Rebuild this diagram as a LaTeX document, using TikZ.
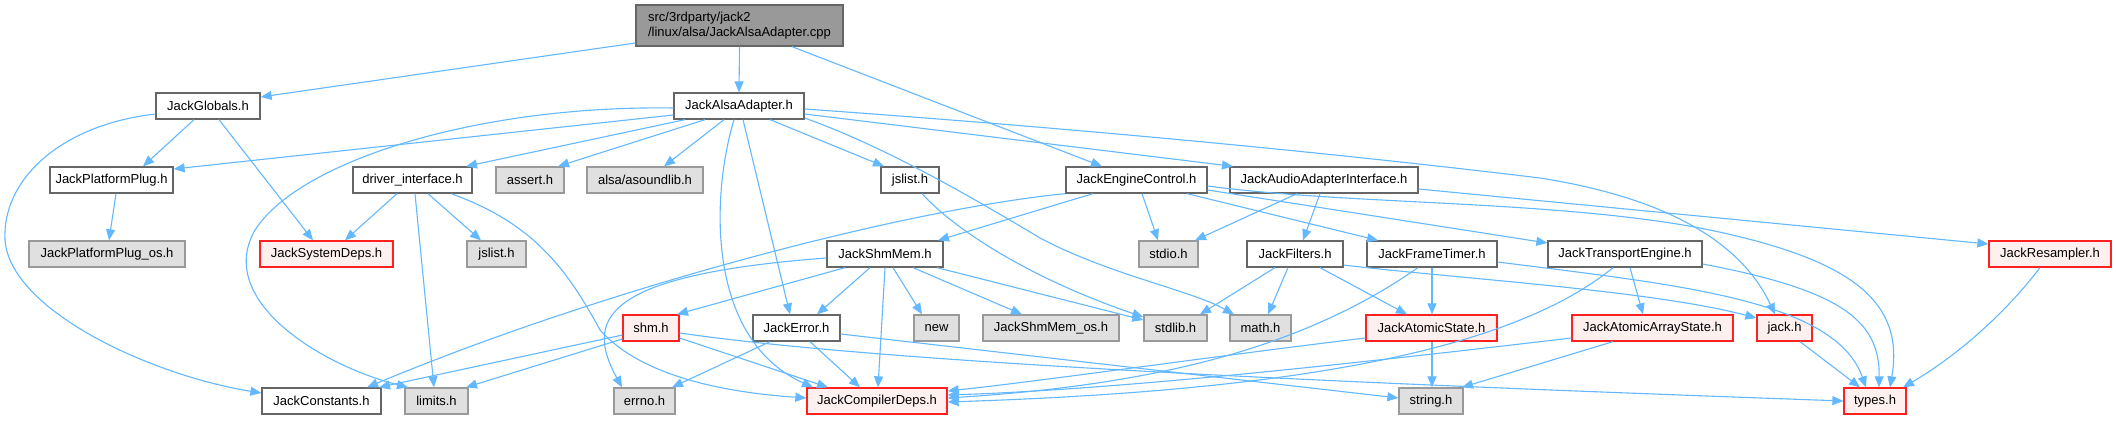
\documentclass[tikz,border=0pt]{standalone}
\usepackage{fontspec}
\setmainfont{Liberation Sans}
\usetikzlibrary{arrows.meta}
\definecolor{edgec}{HTML}{63B8FF}
\definecolor{wbord}{HTML}{666666}
\definecolor{gfill}{HTML}{E0E0E0}
\definecolor{gbord}{HTML}{999999}
\definecolor{rfill}{HTML}{FFF0F0}
\definecolor{rbord}{HTML}{FF2020}
\definecolor{rootfill}{HTML}{999999}
\begin{document}
\begin{tikzpicture}[x=1pt,y=-1pt,
  nb/.style={line width=1.3pt, inner sep=0pt, minimum height=26pt, anchor=center,
     font=\fontsize{13}{15}\selectfont, text=black},
  wn/.style={nb, draw=wbord, fill=white},
  gn/.style={nb, draw=gbord, fill=gfill},
  rn/.style={nb, draw=rbord, fill=rfill},
  rootn/.style={nb, draw=wbord, fill=rootfill, minimum height=41pt, align=left},
  dep/.style={draw=edgec, line width=1.1pt, -{Triangle[length=11pt,width=9pt]}}]
\useasboundingbox (0,0) rectangle (2116,420);
\fill[white] (0,0) rectangle (2116,420);

% nodes
\node[rootn, minimum width=207pt] (root) at (739.5,25.5) {src/3rdparty/jack2\\/linux/alsa/JackAlsaAdapter.cpp};
\node[wn, minimum width=104pt] (JG) at (208,106) {JackGlobals.h};
\node[wn, minimum width=130pt] (JA) at (739,106) {JackAlsaAdapter.h};
\node[wn, minimum width=123pt] (JPP) at (111.5,180) {JackPlatformPlug.h};
\node[wn, minimum width=119pt] (DI) at (412.5,180) {driver\_interface.h};
\node[gn, minimum width=68pt] (AS) at (530,180) {assert.h};
\node[gn, minimum width=116pt] (AL) at (645,180) {alsa/asoundlib.h};
\node[wn, minimum width=58pt] (JSL) at (910,180) {jslist.h};
\node[wn, minimum width=141pt] (JEC) at (1136.5,180) {JackEngineControl.h};
\node[wn, minimum width=188pt] (JAAI) at (1324,180) {JackAudioAdapterInterface.h};
\node[gn, minimum width=156pt] (JPPos) at (107,254) {JackPlatformPlug\_os.h};
\node[rn, minimum width=133pt] (JSD) at (326.5,254) {JackSystemDeps.h};
\node[gn, minimum width=59pt] (JSL2) at (496.5,254) {jslist.h};
\node[wn, minimum width=116pt] (JSM) at (885,254) {JackShmMem.h};
\node[gn, minimum width=59pt] (STDIO) at (1168.5,254) {stdio.h};
\node[wn, minimum width=96pt] (JF) at (1295,254) {JackFilters.h};
\node[wn, minimum width=130pt] (JFT) at (1432,254) {JackFrameTimer.h};
\node[wn, minimum width=154pt] (JTE) at (1625,254) {JackTransportEngine.h};
\node[rn, minimum width=122pt] (JR) at (2050,254) {JackResampler.h};
\node[rn, minimum width=56pt] (SHM) at (651,328) {shm.h};
\node[wn, minimum width=87pt] (JE) at (796.5,328) {JackError.h};
\node[gn, minimum width=45pt] (NEW) at (936.5,328) {new};
\node[gn, minimum width=136pt] (JSMos) at (1051,328) {JackShmMem\_os.h};
\node[gn, minimum width=63pt] (STDLIB) at (1175.5,328) {stdlib.h};
\node[gn, minimum width=61pt] (MATH) at (1260.5,328) {math.h};
\node[rn, minimum width=131pt] (JAS) at (1431.5,328) {JackAtomicState.h};
\node[rn, minimum width=161pt] (JAAS) at (1652.5,328) {JackAtomicArrayState.h};
\node[rn, minimum width=55pt] (JACK) at (1784.5,328) {jack.h};
\node[wn, minimum width=119pt] (JC) at (321.5,401) {JackConstants.h};
\node[gn, minimum width=63pt] (LIM) at (436.5,401) {limits.h};
\node[gn, minimum width=61pt] (ERRNO) at (644.5,401) {errno.h};
\node[rn, minimum width=140pt] (JCD) at (877,401) {JackCompilerDeps.h};
\node[gn, minimum width=64pt] (STR) at (1431,401) {string.h};
\node[rn, minimum width=62pt] (TYPES) at (1875,401) {types.h};

% edges from root
\draw[dep] (root.west |- 0,43) -- (JG.east |- 0,97);
\draw[dep] (root.south) -- (JA.north);
\draw[dep] (root.south -| 792,0) -- (JEC.north -| 1102,0);
% JackGlobals
\draw[dep] (JG.south -| 194,0) -- (JPP.north -| 143,0);
\draw[dep] (JG.south -| 219,0) -- (JSD.north -| 313,0);
\draw[dep] (JG.west |- 0,114) .. controls (60,125) and (2,180) .. (5,240) .. controls (10,310) and (150,375) .. (JC.west |- 0,393);
\draw[dep] (JPP.south -| 116,0) -- (JPPos.north -| 109,0);
% JackAlsaAdapter
\draw[dep] (JA.west |- 0,115) -- (JPP.east |- 0,169);
\draw[dep] (JA.west |- 0,108) .. controls (480,105) and (300,160) .. (255,230) .. controls (215,300) and (320,365) .. (LIM.north -| 408,0);
\draw[dep] (JA.south -| 685,0) -- (DI.north -| 466,0);
\draw[dep] (JA.south -| 705,0) -- (AS.north -| 558,0);
\draw[dep] (JA.south -| 724,0) -- (AL.north -| 664,0);
\draw[dep] (JA.south -| 734,0) .. controls (710,200) and (708,340) .. (JCD.north -| 813,0);
\draw[dep] (JA.south -| 743,0) -- (JE.north -| 790,0);
\draw[dep] (JA.south -| 770,0) -- (JSL.north -| 884,0);
\draw[dep] (JA.east |- 0,118) .. controls (880,145) and (960,190) .. (1040,238) .. controls (1110,275) and (1190,290) .. (MATH.north -| 1234,0);
\draw[dep] (JA.east |- 0,114) -- (JAAI.north -| 1233,0);
\draw[dep] (JA.east |- 0,109) .. controls (1100,130) and (1350,155) .. (1540,178) .. controls (1680,200) and (1745,250) .. (JACK.north -| 1775,0);
% driver_interface
\draw[dep] (DI.south -| 397,0) -- (JSD.north -| 345,0);
\draw[dep] (DI.south -| 415,0) -- (LIM.north -| 434,0);
\draw[dep] (DI.south -| 428,0) -- (JSL2.north -| 481,0);
\draw[dep] (DI.south -| 451,0) .. controls (530,222) and (565,265) .. (600,330) .. controls (640,375) and (720,392) .. (JCD.west |- 0,398);
% jslist
\draw[dep] (JSL.south -| 922,0) .. controls (960,235) and (1040,282) .. (STDLIB.west |- 0,317);
% JackEngineControl
\draw[dep] (JEC.south west) .. controls (900,210) and (600,290) .. (JC.north -| 367,0);
\draw[dep] (JEC.south -| 1093,0) -- (JSM.north -| 938,0);
\draw[dep] (JEC.south -| 1142,0) -- (STDIO.north -| 1158,0);
\draw[dep] (JEC.south -| 1187,0) -- (JFT.north -| 1378,0);
\draw[dep] (JEC.east |- 0,190) -- (JTE.west |- 0,243);
\draw[dep] (JEC.east |- 0,186) .. controls (1350,205) and (1550,200) .. (1700,228) .. controls (1850,258) and (1905,300) .. (TYPES.north -| 1890,0);
% JackAudioAdapterInterface
\draw[dep] (JAAI.south -| 1297,0) -- (STDIO.north -| 1195,0);
\draw[dep] (JAAI.south -| 1320,0) -- (JF.north -| 1303,0);
\draw[dep] (JAAI.east |- 0,189) -- (JR.west |- 0,244);
% JackShmMem
\draw[dep] (JSM.south -| 845,0) -- (SHM.north -| 677,0);
\draw[dep] (JSM.south -| 870,0) -- (JE.north -| 817,0);
\draw[dep] (JSM.south -| 893,0) -- (NEW.north -| 922,0);
\draw[dep] (JSM.south -| 913,0) -- (JSMos.north -| 1022,0);
\draw[dep] (JSM.south -| 937,0) -- (STDLIB.west |- 0,320);
\draw[dep] (JSM.south -| 885,0) -- (JCD.north -| 878,0);
\draw[dep] (JSM.west |- 0,258) .. controls (600,275) and (585,320) .. (ERRNO.north -| 622,0);
% JackFilters
\draw[dep] (JF.south -| 1275,0) -- (STDLIB.north -| 1200,0);
\draw[dep] (JF.south -| 1288,0) -- (MATH.north -| 1268,0);
\draw[dep] (JF.south -| 1320,0) -- (JAS.north -| 1407,0);
\draw[dep] (JF.east |- 0,265) .. controls (1450,278) and (1650,290) .. (JACK.west |- 0,318);
% JackFrameTimer
\draw[dep] (JFT.south -| 1432,0) -- (JAS.north -| 1432,0);
\draw[dep] (JFT.south -| 1418,0) .. controls (1300,350) and (1150,385) .. (JCD.east |- 0,398);
\draw[dep] (JFT.east |- 0,262) .. controls (1680,285) and (1835,300) .. (TYPES.north -| 1866,0);
% JackTransportEngine
\draw[dep] (JTE.south -| 1630,0) -- (JAAS.north -| 1643,0);
\draw[dep] (JTE.south -| 1613,0) .. controls (1500,360) and (1250,392) .. (JCD.east |- 0,402);
\draw[dep] (JTE.east |- 0,264) .. controls (1840,290) and (1880,320) .. (TYPES.north -| 1879,0);
% JackResampler, jack.h
\draw[dep] (JR.south -| 2040,0) .. controls (2000,320) and (1950,360) .. (TYPES.north -| 1903,0);
\draw[dep] (JACK.south -| 1800,0) -- (TYPES.north -| 1860,0);
% shm.h
\draw[dep] (SHM.west |- 0,335) -- (JC.north -| 379,0);
\draw[dep] (SHM.west |- 0,339) -- (LIM.north -| 466,0);
\draw[dep] (SHM.east |- 0,338) -- (JCD.north -| 828,0);
\draw[dep] (SHM.east |- 0,333) .. controls (900,365) and (1400,385) .. (TYPES.west |- 0,401);
% JackError
\draw[dep] (JE.south -| 770,0) -- (ERRNO.north -| 672,0);
\draw[dep] (JE.south -| 810,0) -- (JCD.north -| 860,0);
\draw[dep] (JE.east |- 0,334) -- (STR.west |- 0,398);
% atomic states
\draw[dep] (JAS.west |- 0,338) .. controls (1200,358) and (1050,380) .. (JCD.east |- 0,391);
\draw[dep] (JAS.south -| 1432,0) -- (STR.north -| 1432,0);
\draw[dep] (JAAS.west |- 0,338) .. controls (1300,370) and (1100,390) .. (JCD.east |- 0,395);
\draw[dep] (JAAS.south -| 1613,0) -- (STR.north -| 1462,0);
\end{tikzpicture}
\end{document}
